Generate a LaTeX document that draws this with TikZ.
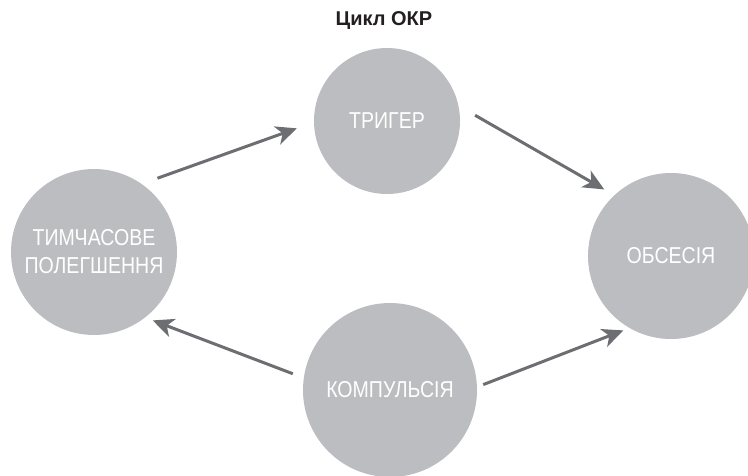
\documentclass[tikz,border=0pt]{standalone}
\usepackage{fontspec}
\setmainfont{Liberation Sans}
\newfontfamily\circfont[FakeStretch=0.85]{Liberation Sans}
\usetikzlibrary{arrows.meta}
\begin{document}
\begin{tikzpicture}[x=1pt,y=-1pt,
        circulo/.style={circle,fill=cgris,inner sep=0pt,text=white,align=center,
            font=\circfont\fontsize{23}{28}\selectfont},
        flecha/.style={line width=3pt,draw=cflecha,
            -{Stealth[length=21pt,width=19pt,inset=6pt]}}]
        %colores
        \definecolor{cgris}{HTML}{BCBDC0}
        \definecolor{cflecha}{HTML}{6D6E71}
        \definecolor{ctitulo}{HTML}{231F20}
        % marco
        \useasboundingbox (0,0) rectangle (748,475);
        % titulo
        \node[font=\bfseries\fontsize{20}{24}\selectfont,text=ctitulo] (titulo) at (384,21) {Цикл ОКР};
        % circulos
        \node[circulo,minimum size=146pt] (trig) at (387,121) {ТРИГЕР};
        \node[circulo,minimum size=166pt] (obs) at (671,256) {ОБСЕСІЯ};
        \node[circulo,minimum size=174pt] (comp) at (390,390) {КОМПУЛЬСІЯ};
        \node[circulo,minimum size=166pt] (rel) at (94,252) {ТИМЧАСОВЕ\\ПОЛЕГШЕННЯ};

        % flechas
        \draw[flecha,shorten <=16.7pt,shorten >=18pt] (rel.55) -- (trig.181);
        \draw[flecha,shorten <=19pt,shorten >=11.5pt] (trig.12) -- (obs.133.5);
        \draw[flecha,shorten <=6.5pt,shorten >=6.5pt] (comp.2) -- (obs.240);
        \draw[flecha,shorten <=11.6pt,shorten >=8pt] (comp.172) -- (rel.308);
    \end{tikzpicture}
\end{document}
